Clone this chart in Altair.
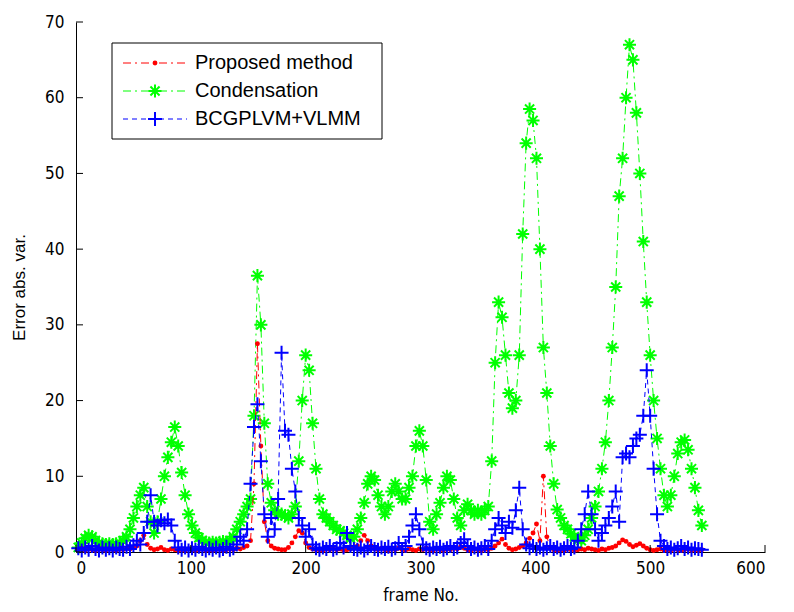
import altair as alt
import pandas as pd

# ---------------- data ----------------
frames = list(range(2, 546, 3))  # frame numbers sampled every 3 frames

proposed = [
    0.3, 0.5, 0.2, 0.4, 0.3, 0.2, 0.5, 0.3, 0.2, 0.4,
    0.3, 0.2, 0.4, 0.3, 0.5, 0.4, 0.6, 0.8, 1.5, 2.2,
    1.0, 0.5, 0.3, 0.4, 0.6, 0.3, 0.2, 0.4, 0.3, 0.2,
    0.3, 0.2, 0.4, 0.3, 0.2, 0.3, 0.4, 0.2, 0.3, 0.2,
    0.3, 0.4, 0.2, 0.3, 0.4, 0.3, 0.5, 0.4, 0.6, 0.8,
    1.5, 9.0, 27.5, 14.0, 4.0, 1.5, 0.8, 0.5, 0.4, 0.3,
    0.3, 0.6, 1.2, 2.0, 2.8, 2.5, 1.2, 0.6, 0.4, 0.3,
    0.3, 0.2, 0.4, 0.3, 0.5, 0.3, 0.4, 0.2, 0.3, 0.4,
    0.5, 0.8, 1.5, 2.2, 1.5, 0.8, 0.4, 0.3, 0.5, 0.3,
    0.2, 0.4, 0.3, 0.5, 0.3, 0.2, 0.4, 0.3, 0.2, 0.4,
    0.3, 0.5, 0.3, 0.2, 0.4, 0.3, 0.2, 0.4, 0.3, 0.5,
    0.4, 0.7, 0.5, 0.3, 0.2, 0.4, 0.3, 0.2, 0.4, 0.3,
    0.5, 0.8, 1.2, 1.7, 1.0, 0.5, 0.3, 0.4, 0.6, 0.8,
    1.2, 1.8, 2.5, 3.7, 1.5, 10.0, 2.0, 0.6, 0.3, 0.2,
    0.3, 0.2, 0.4, 0.3, 0.2, 0.3, 0.4, 0.3, 0.5, 0.4,
    0.3, 0.2, 0.4, 0.3, 0.5, 0.6, 0.8, 1.2, 1.6, 1.4,
    1.0, 0.7, 0.9, 1.1, 0.8, 0.5, 0.3, 0.2, 0.3, 0.4,
    0.2, 0.3, 0.2, 0.4, 0.3, 0.2, 0.3, 0.4, 0.2, 0.3,
    0.2, 0.3,
]

condensation = [
    0.6, 1.2, 1.8, 2.2, 2.0, 1.5, 1.2, 1.1, 1.0, 1.1,
    1.0, 1.1, 1.2, 1.5, 2.0, 3.0, 4.5, 6.0, 7.5, 8.5,
    6.0, 4.0, 2.5, 4.0, 7.0, 10.0, 12.5, 14.5, 16.5, 14.0,
    10.5, 7.5, 5.0, 3.5, 2.5, 1.9, 1.5, 1.3, 1.2, 1.3,
    1.2, 1.3, 1.4, 1.3, 1.5, 2.0, 3.0, 4.0, 5.0, 6.0,
    7.0, 18.0, 36.5, 30.0, 17.0, 9.0, 6.5, 5.5, 5.0, 5.0,
    4.8, 4.5, 5.0, 6.0, 12.0, 20.0, 26.0, 24.0, 17.0, 11.0,
    7.0, 5.0, 4.5, 4.0, 3.5, 3.0, 2.8, 2.5, 2.2, 1.8,
    2.0, 3.0, 4.5, 6.5, 9.0, 10.0, 9.5, 7.5, 6.0, 5.0,
    6.0, 8.0, 9.0, 8.0, 7.0, 7.0, 8.5, 10.0, 14.0, 16.0,
    14.0, 9.5, 4.0, 3.0, 5.0, 6.5, 8.5, 10.0, 9.5, 7.0,
    4.5, 3.5, 5.5, 6.3, 5.5, 5.0, 5.5, 5.0, 5.5, 6.0,
    12.0, 25.0, 33.0, 31.0, 26.0, 21.0, 19.0, 20.0, 26.0, 42.0,
    54.0, 58.5, 57.0, 52.0, 40.0, 27.0, 21.0, 14.0, 9.0, 5.6,
    4.5, 3.5, 3.0, 2.4, 2.0, 1.6, 1.5, 2.2, 3.0, 4.5,
    6.0, 8.0, 11.0, 14.5, 20.0, 27.0, 35.0, 47.0, 52.0, 60.0,
    67.0, 65.0, 58.0, 50.0, 41.0, 33.0, 26.0, 20.0, 15.0, 11.0,
    7.5, 6.0, 7.5, 10.0, 13.0, 14.5, 14.8, 13.5, 11.0, 8.5,
    5.5, 3.5,
]

bcgplvm = [
    0.5, 0.2, 0.6, 0.3, 0.8, 0.4, 0.2, 0.6, 0.3, 0.5,
    0.2, 0.6, 0.4, 0.3, 0.7, 0.4, 0.9, 1.5, 1.0, 2.5,
    4.0, 7.5, 4.0, 3.5, 4.2, 3.8, 4.3, 3.5, 1.5, 0.6,
    0.3, 0.6, 0.2, 0.5, 0.3, 0.7, 0.4, 0.2, 0.5, 0.3,
    0.6, 0.2, 0.4, 0.7, 0.3, 0.5, 1.0, 2.0, 1.5, 3.0,
    9.0, 16.5, 19.5, 12.0, 5.0, 2.0, 4.5, 3.0, 7.0, 26.3,
    16.0, 15.5, 11.0, 8.0, 4.5, 3.5, 2.0, 3.0, 1.0, 0.5,
    0.3, 0.6, 0.4, 0.8, 0.3, 0.5, 1.2, 0.6, 2.5, 0.8,
    0.4, 0.3, 0.6, 0.2, 0.5, 0.8, 0.4, 0.3, 0.6, 0.4,
    0.7, 0.3, 0.5, 1.2, 0.4, 0.8, 2.0, 3.5, 5.0, 3.0,
    1.0, 0.5, 0.3, 0.6, 0.4, 0.7, 0.3, 0.5, 0.8, 0.4,
    0.6, 1.2, 1.7, 0.8, 0.4, 0.6, 0.3, 0.5, 0.8, 0.4,
    1.5, 3.0, 4.5, 3.5, 2.5, 4.0, 3.2, 5.5, 8.5, 3.0,
    1.0, 0.5, 0.8, 0.4, 0.6, 0.3, 0.5, 0.8, 0.4, 0.6,
    0.3, 0.5, 0.8, 0.4, 0.6, 1.5, 3.0, 5.0, 8.0, 5.0,
    3.0, 1.5, 2.5, 3.5, 4.5, 6.0, 8.0, 4.0, 12.5, 13.0,
    12.5, 14.0, 15.0, 15.5, 18.0, 24.0, 18.0, 11.0, 5.0, 1.5,
    0.8, 0.4, 0.6, 0.3, 0.5, 0.8, 0.4, 0.6, 0.3, 0.5,
    0.4, 0.3,
]

series_names = ["Proposed method", "Condensation", "BCGPLVM+VLMM"]
series_colors = ["#FF0000", "#00FF00", "#0000FF"]
x_ticks = [0, 100, 200, 300, 400, 500, 600]
y_ticks = [0, 10, 20, 30, 40, 50, 60, 70]

assert len(frames) == len(proposed) == len(condensation) == len(bcgplvm)

# ---------------- styling ----------------
W, H = 689, 530
TICK_FONT = "Liberation Sans Narrow, DejaVu Sans Condensed, Liberation Sans, sans-serif"
TEXT_FONT = "Liberation Sans, Arial, sans-serif"

PLUS = "M-1,0L1,0M0,-1L0,1"
STAR = "M-1,0L1,0M0,-1L0,1M-0.7,-0.7L0.7,0.7M-0.7,0.7L0.7,-0.7"
DASHES = {"Proposed method": [8, 4, 2, 4], "Condensation": [8, 4, 2, 4], "BCGPLVM+VLMM": [5, 4]}

xscale = alt.Scale(domain=[0, 600], nice=False, zero=False)
yscale = alt.Scale(domain=[0, 70], nice=False)

xaxis = alt.Axis(values=x_ticks, ticks=False, grid=False, domainColor="black", domainWidth=1,
                 labelFont=TICK_FONT, labelFontSize=17, labelColor="black", labelPadding=8,
                 title="frame No.", titleFont=TICK_FONT, titleFontSize=17, titleFontWeight="normal",
                 titleColor="black", titleBaseline="alphabetic", titleY=48)
yaxis = alt.Axis(values=y_ticks, ticks=False, grid=False, domainColor="black", domainWidth=1,
                 labelFont=TICK_FONT, labelFontSize=17, labelColor="black", labelPadding=12,
                 title="Error abs. var.", titleFont=TEXT_FONT, titleFontSize=17, titleFontWeight="normal",
                 titleColor="black", titleX=-48)


def series_layers(values, name, color):
    df = pd.DataFrame({"frame": frames, "value": values})
    base = alt.Chart(df).encode(
        x=alt.X("frame:Q", scale=xscale, axis=xaxis),
        y=alt.Y("value:Q", scale=yscale, axis=yaxis),
    )
    line = base.mark_line(color=color, strokeWidth=1, strokeDash=DASHES[name])
    if name == "Proposed method":
        pts = base.mark_circle(color=color, size=24, opacity=1)
    elif name == "Condensation":
        pts = base.mark_point(shape=STAR, color=color, filled=False, strokeWidth=2, size=170, opacity=1)
    else:
        pts = base.mark_point(shape=PLUS, color=color, filled=False, strokeWidth=2, size=196, opacity=1)
    return [line, pts]


values_by_name = {"Proposed method": proposed, "Condensation": condensation, "BCGPLVM+VLMM": bcgplvm}
layers = []
for nm in ["Condensation", "Proposed method", "BCGPLVM+VLMM"]:
    layers += series_layers(values_by_name[nm], nm, series_colors[series_names.index(nm)])

# inward tick marks
ytick = alt.Chart(pd.DataFrame({"t": y_ticks})).mark_rule(color="black", strokeWidth=1).encode(
    y=alt.Y("t:Q", scale=yscale, axis=yaxis), x=alt.value(0), x2=alt.value(7))
xtick = alt.Chart(pd.DataFrame({"t": x_ticks})).mark_rule(color="black", strokeWidth=1).encode(
    x=alt.X("t:Q", scale=xscale, axis=xaxis), y=alt.value(H), y2=alt.value(H - 7))
layers += [ytick, xtick]

# legend box
one = pd.DataFrame({"a": [0]})
layers.append(alt.Chart(one).mark_rect(fill="white", stroke="black", strokeWidth=1).encode(
    x=alt.value(36), x2=alt.value(306), y=alt.value(21), y2=alt.value(117)))
row_y = [41, 69, 97]
for i, nm in enumerate(series_names):
    c = series_colors[i]
    d = pd.DataFrame({"name": [nm]})
    layers.append(alt.Chart(d).mark_rule(color=c, strokeWidth=1, strokeDash=DASHES[nm]).encode(
        x=alt.value(47), x2=alt.value(111), y=alt.value(row_y[i])))
    if nm == "Proposed method":
        mk = alt.Chart(d).mark_circle(color=c, size=24, opacity=1)
    elif nm == "Condensation":
        mk = alt.Chart(d).mark_point(shape=STAR, color=c, filled=False, strokeWidth=2, size=170, opacity=1)
    else:
        mk = alt.Chart(d).mark_point(shape=PLUS, color=c, filled=False, strokeWidth=2, size=196, opacity=1)
    layers.append(mk.encode(x=alt.value(79), y=alt.value(row_y[i])))
    layers.append(alt.Chart(d).mark_text(align="left", baseline="middle", font=TEXT_FONT,
                                         fontSize=20, color="black").encode(
        x=alt.value(119), y=alt.value(row_y[i]), text="name:N"))

chart = alt.layer(*layers).properties(
    width=W, height=H,
    autosize=alt.AutoSizeParams(type="none"),
    padding={"left": 68, "top": 14, "right": 21, "bottom": 52},
    background="white",
).configure_view(stroke=None)

chart.save("out.html", embed_options={"renderer": "svg", "actions": False})
